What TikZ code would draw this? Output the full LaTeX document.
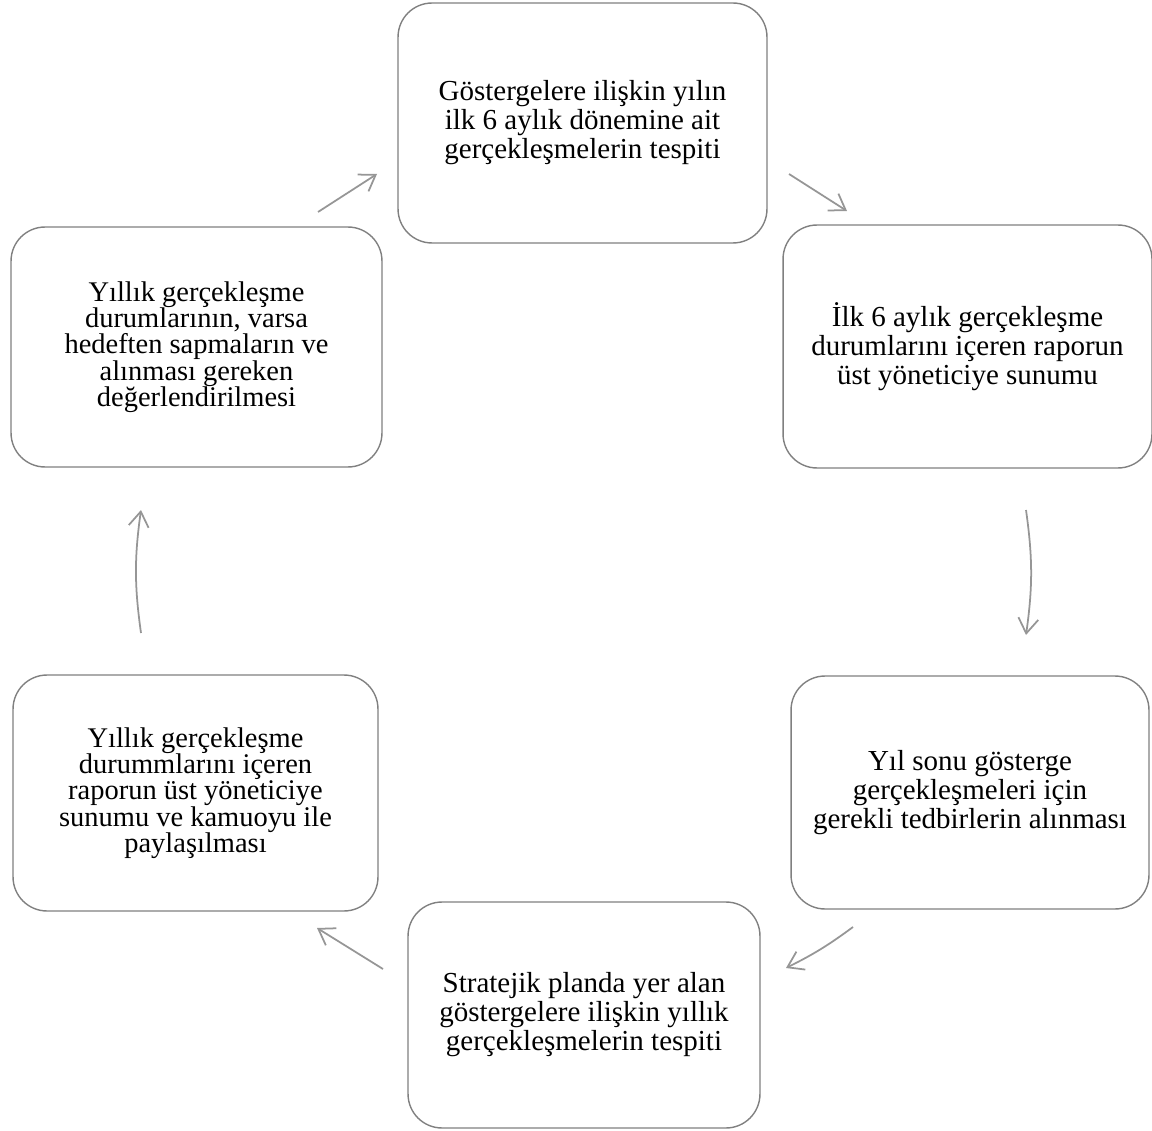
\documentclass[tikz,border=0pt]{standalone}
\usepackage{fontspec}
\setmainfont{Liberation Serif}
\usetikzlibrary{arrows.meta, positioning}

\definecolor{boxgray}{RGB}{128,128,128}
\definecolor{arrowgray}{RGB}{150,150,150}

\tikzset{
  stagebox/.style={rectangle, draw=boxgray, line width=0.8pt, rounded corners=0.68cm,
    align=center, text=black, inner sep=0pt, font=\fontsize{16.5pt}{16.5pt}\selectfont},
  tightbox/.style={stagebox, font=\fontsize{16.2pt}{15pt}\selectfont},
  flow/.style={draw=arrowgray, line width=1pt, -{Straight Barb[length=0.3cm,width=0.4cm]}}
}

\begin{document}
\begin{tikzpicture}[x=0.02cm, y=-0.02cm]
    \useasboundingbox (0,0) rectangle (1152,1131);

    % Stage boxes
    \node[stagebox, minimum width=7.38cm, minimum height=4.8cm] (gosterge) at (582.5,123) {Göstergelere ilişkin yılın\\ilk 6 aylık dönemine ait\\gerçekleşmelerin tespiti};
    \node[stagebox, minimum width=7.38cm, minimum height=4.86cm] (ilkalti) at (967.5,346.5) {İlk 6 aylık gerçekleşme\\durumlarını içeren raporun\\üst yöneticiye sunumu};
    \node[stagebox, minimum width=7.16cm, minimum height=4.66cm] (yilsonu) at (970,792.5) {Yıl sonu gösterge\\gerçekleşmeleri için\\gerekli tedbirlerin alınması};
    \node[stagebox, minimum width=7.04cm, minimum height=4.52cm] (stratejik) at (584,1015) {Stratejik planda yer alan\\göstergelere ilişkin yıllık\\gerçekleşmelerin tespiti};
    \node[tightbox, minimum width=7.3cm, minimum height=4.72cm] (paylasim) at (195.5,793) {Yıllık gerçekleşme\\durummlarını içeren\\raporun üst yöneticiye\\sunumu ve kamuoyu ile\\paylaşılması};
    \node[tightbox, minimum width=7.42cm, minimum height=4.8cm] (degerlendirme) at (196.5,347) {Yıllık gerçekleşme\\durumlarının, varsa\\hedeften sapmaların ve\\alınması gereken\\değerlendirilmesi};

    % Arrow ends
    \coordinate (a1s) at (318,212);  \coordinate (a1e) at (377,174);
    \coordinate (a2s) at (789,174);  \coordinate (a2e) at (847,211);
    \coordinate (a3s) at (1026,510); \coordinate (a3e) at (1026,635);
    \coordinate (a4s) at (853,927);  \coordinate (a4e) at (786,968);
    \coordinate (a5s) at (383,969);  \coordinate (a5e) at (317,928);
    \coordinate (a6s) at (141,633);  \coordinate (a6e) at (141,510);

    % Connections
    \draw[flow] (a1s) to (a1e);
    \draw[flow] (a2s) to (a2e);
    \draw[flow] (a3s) to[bend left=8] (a3e);
    \draw[flow] (a4s) to[bend left=5] (a4e);
    \draw[flow] (a5s) to (a5e);
    \draw[flow] (a6s) to[bend left=8] (a6e);
\end{tikzpicture}
\end{document}
